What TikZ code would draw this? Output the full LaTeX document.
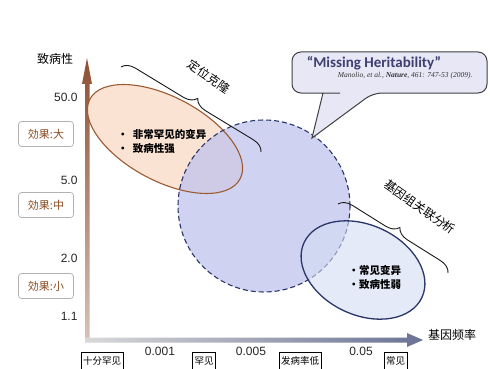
\documentclass[tikz,border=0pt]{standalone}
\usepackage{fontspec}
\setmainfont{Liberation Sans}
\newfontfamily\cjk{Noto Sans CJK SC}
\newfontfamily\titlefont{Carlito}
\newfontfamily\citefont{Liberation Serif}
\usetikzlibrary{decorations.pathreplacing}
\definecolor{brownaxis}{HTML}{8E5034}
\definecolor{peach}{HTML}{FBE3D3}
\definecolor{peachedge}{HTML}{9A5B33}
\definecolor{lav}{HTML}{BFC2EE}
\definecolor{navy}{HTML}{2A3668}
\definecolor{lightblue}{HTML}{D3DDF2}
\definecolor{effbrown}{HTML}{8A4B22}
\definecolor{callfill}{HTML}{E7E7F6}
\definecolor{titleblue}{HTML}{3F3F70}
\tikzset{
  effbox/.style={draw=gray!60, rounded corners=3pt, fill=white, line width=0.7pt,
    minimum width=55pt, minimum height=25pt, inner sep=2pt, text=effbrown, font=\cjk\fontsize{11}{11}\selectfont},
  catbox/.style={draw=black, line width=0.6pt, fill=white, inner sep=2pt, minimum height=17pt,
    font=\cjk\fontsize{9.5}{10}\selectfont},
  ticklbl/.style={font=\fontsize{12}{12}\selectfont, text=black!85},
  cnlbl/.style={font=\cjk\fontsize{12}{12}\selectfont},
  inlbl/.style={font=\cjk\bfseries\fontsize{10.5}{14}\selectfont, align=left},
  bracedec/.style={decorate, decoration={brace, amplitude=13pt}, line width=0.9pt, draw=black!90},
}
\begin{document}
\begin{tikzpicture}[x=1pt,y=-1pt]
\useasboundingbox (0,0) rectangle (490,369);
\fill[white] (0,0) rectangle (490,369);

% y axis
\shade[top color=brownaxis, bottom color=brownaxis!35!white, draw=none]
  (85,84) -- (82,84) -- (87,58) -- (92,84) -- (89.5,84) -- (89.5,342) -- (85,342) -- cycle;
% x axis
\shade[left color=gray!30, right color=navy!70!white, draw=none]
  (85,337.5) -- (407,337.5) -- (407,333) -- (423,340) -- (407,347) -- (407,342.5) -- (85,342.5) -- cycle;

% axis labels
\node[cnlbl] (ylab) at (55,59) {致病性};
\node[cnlbl] (xlab) at (452,335) {基因频率};

% y tick labels
\node[ticklbl, anchor=east] (y50) at (81,97) {50.0};
\node[ticklbl, anchor=east] (y5) at (81,180) {5.0};
\node[ticklbl, anchor=east] (y2) at (81,258) {2.0};
\node[ticklbl, anchor=east] (y11) at (81,316) {1.1};

% effect boxes
\node[effbox] (eff1) at (46,134) {効果:大};
\node[effbox] (eff2) at (46,205) {効果:中};
\node[effbox] (eff3) at (46,286) {効果:小};

% x tick labels
\node[ticklbl] (x1) at (160,351) {0.001};
\node[ticklbl] (x2) at (251,351) {0.005};
\node[ticklbl] (x3) at (361,351) {0.05};

% category boxes
\node[catbox, anchor=north] (c1) at (102,352) {十分罕见};
\node[catbox, anchor=north] (c2) at (204,352) {罕见};
\node[catbox, anchor=north] (c3) at (300,352) {发病率低};
\node[catbox, anchor=north] (c4) at (395.5,352) {常见};

% orange ellipse
\fill[shift={(165,139)}, rotate=-28, peach] (0,0) ellipse [x radius=85pt, y radius=42pt];
% big circle
\fill[lav, fill opacity=0.72] (264,206) circle [radius=86pt];
\draw[shift={(165,139)}, rotate=-28, peachedge, line width=1.1pt] (0,0) ellipse [x radius=85pt, y radius=42pt];
\draw[navy, dashed, dash pattern=on 5pt off 3pt, line width=1.1pt] (264,206) circle [radius=86pt];
% blue ellipse
\fill[shift={(363,270)}, rotate=-25, lightblue, fill opacity=0.6] (0,0) ellipse [x radius=65pt, y radius=45pt];
\draw[shift={(363,270)}, rotate=-25, navy, line width=1.3pt] (0,0) ellipse [x radius=65pt, y radius=45pt];

% ellipse texts
\node[inlbl, anchor=west] (rare) at (114,141) {•\ \ 非常罕见的变异\\•\ \ 致病性强};
\node[inlbl, anchor=west] (common) at (345,277) {•常见变异\\•致病性弱};

% braces
\coordinate (b1s) at (121,67);
\coordinate (b1e) at (261,152);
\draw[bracedec] (b1s) -- (b1e);
\node[cnlbl, rotate=-35] (lbl1) at (209,77) {定位克隆};
\coordinate (b2s) at (338,204);
\coordinate (b2e) at (448,273);
\draw[bracedec] (b2s) -- (b2e);
\node[cnlbl, rotate=-35] (lbl2) at (420,207) {基因组关联分析};

% callout
\coordinate (tip) at (312,138);
\draw[fill=callfill, draw=black!75, line width=1pt]
  (340,93) [rounded corners=9pt] -- (292,93) -- (292,52) -- (487,52) -- (487,93) -- (373,93) [sharp corners] -- (tip) -- (323,93) -- cycle;
\node[font=\titlefont\bfseries\fontsize{15}{15}\selectfont, text=titleblue] (title) at (374,63) {“Missing Heritability”};
\node[font=\citefont\itshape\fontsize{7.5}{8}\selectfont, text=black!80, anchor=east] (cite) at (476,76) {Manolio, et al., \textbf{Nature}, 461: 747-53 (2009).};
\end{tikzpicture}
\end{document}
